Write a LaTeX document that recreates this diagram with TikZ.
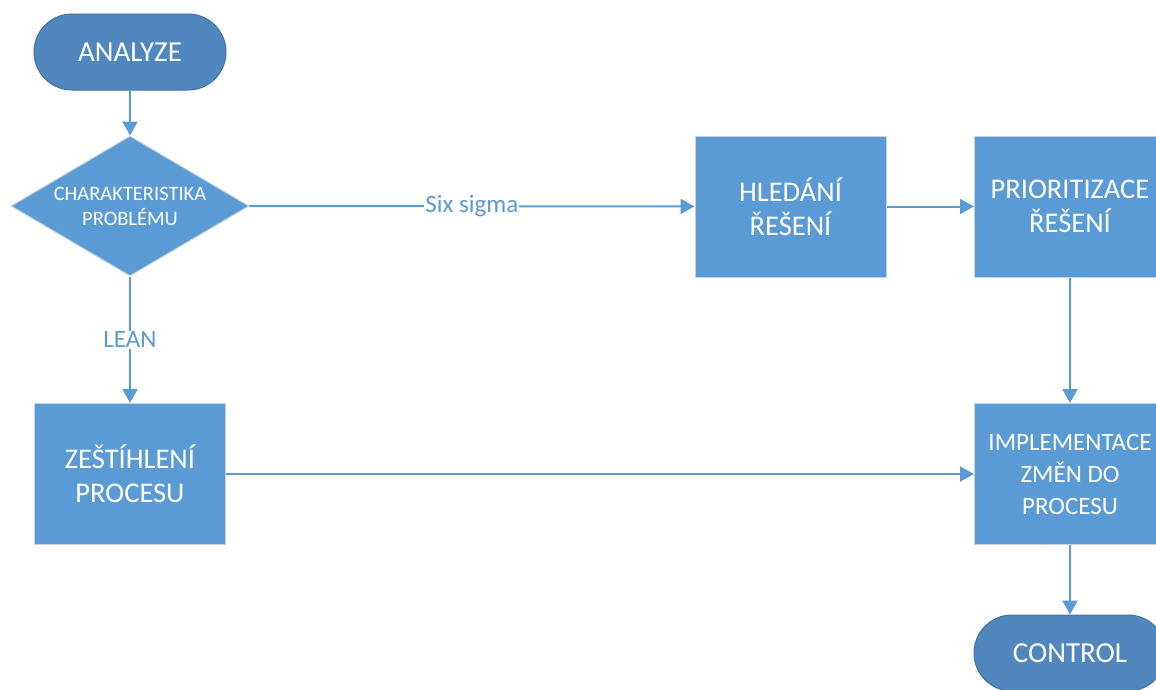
\documentclass[tikz,border=0pt]{standalone}
\usepackage{fontspec}
\setmainfont{Carlito}
\usetikzlibrary{shapes.geometric,arrows.meta}
\definecolor{boxblue}{HTML}{5B9BD5}
\definecolor{termblue}{HTML}{4F87BE}
\definecolor{termedge}{HTML}{41719C}
\definecolor{boxedge}{HTML}{C9D3DD}
\begin{document}
\begin{tikzpicture}[x=1pt,y=-1pt,
  process/.style={rectangle, fill=boxblue, draw=boxedge, line width=1pt,
    minimum width=191pt, minimum height=141pt, inner sep=0pt,
    text=white, align=center, font=\fontsize{28.5}{34}\selectfont},
  terminal/.style={rectangle, rounded corners=38pt, fill=termblue, draw=termedge,
    line width=1pt, minimum width=192pt, minimum height=76pt, inner sep=0pt,
    text=white, font=\fontsize{29}{34}\selectfont},
  decision/.style={diamond, aspect=1.7, fill=boxblue, draw=boxedge, line width=1pt,
    minimum width=238pt, minimum height=140pt, inner sep=0pt,
    text=white, align=center, font=\fontsize{20.5}{25}\selectfont},
  flow/.style={draw=boxblue, line width=2pt,
    -{Triangle[length=14pt,width=15pt]}},
  flowlabel/.style={fill=white, text=boxblue, inner sep=1pt,
    font=\fontsize{25}{28}\selectfont}]
\path[use as bounding box, clip] (0,0) rectangle (1156,689);

% nodes
\node[terminal] (analyze) at (130,52) {ANALYZE};
\node[decision] (charakt) at (130,206) {CHARAKTERISTIKA\\PROBLÉMU};
\node[process] (hledani) at (790.5,206.5) {HLEDÁNÍ\\ŘEŠENÍ};
\node[process] (prior) at (1070,206.5) {PRIORITIZACE\\ŘEŠENÍ};
\node[process] (zest) at (130,474) {ZEŠTÍHLENÍ\\PROCESU};
\node[process, font=\fontsize{25}{32}\selectfont] (impl) at (1070,474)
  {IMPLEMENTACE\\ZMĚN DO\\PROCESU};
\node[terminal] (control) at (1070,653) {CONTROL};

% connectors
\draw[flow] (analyze) -- (charakt);
\draw[flow] (charakt) -- node[flowlabel, pos=0.5] {Six sigma} (hledani);
\draw[flow] (charakt) -- node[flowlabel, pos=0.5] {LEAN} (zest);
\draw[flow] (hledani) -- (prior);
\draw[flow] (prior) -- (impl);
\draw[flow] (zest) -- (impl);
\draw[flow] (impl) -- (control);
\end{tikzpicture}
\end{document}
